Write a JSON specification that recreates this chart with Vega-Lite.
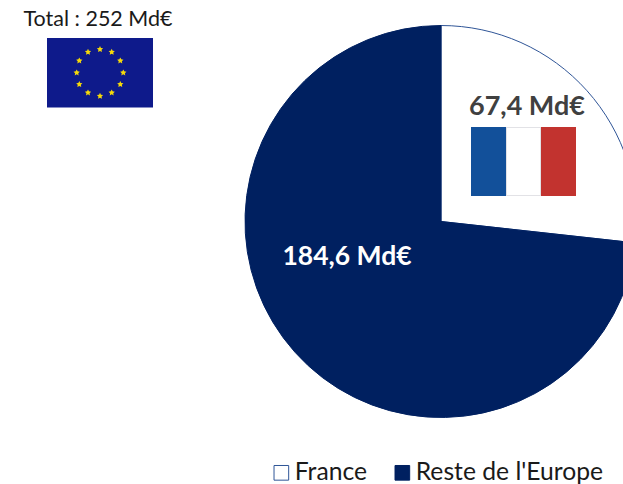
{"$schema":"https://vega.github.io/schema/vega-lite/v6.json","width":623,"height":484,"padding":0,"autosize":{"type":"none"},"background":"white","view":{"stroke":null},"config":{"font":"Lato"},"layer":[
{"data":{"values":[{"zone":"France","valeur":67.4},{"zone":"Reste de l'Europe","valeur":184.6}]},"mark":{"type":"arc","outerRadius":196,"strokeWidth":1,"clip":true},"encoding":{"x":{"datum":441,"type":"quantitative","scale":{"domain":[0,623],"range":[0,623],"nice":false,"zero":false},"axis":null},"y":{"datum":221.5,"type":"quantitative","scale":{"domain":[0,484],"range":[0,484],"nice":false,"zero":false},"axis":null},"theta":{"field":"valeur","type":"quantitative","stack":true},"fill":{"field":"zone","type":"nominal","scale":{"domain":["France","Reste de l'Europe"],"range":["#ffffff","#002060"]},"legend":{"title":null,"orient":"none","legendX":269,"legendY":460,"direction":"horizontal","symbolType":"square","symbolSize":215,"labelFontSize":24.7,"labelColor":"#1a1a1a","labelFont":"Lato","columnPadding":22,"symbolStrokeWidth":1,"labelOffset":1,"labelLimit":300}},"stroke":{"field":"zone","type":"nominal","title":null,"scale":{"domain":["France","Reste de l'Europe"],"range":["#2f5597","#002060"]}}}},
{"data":{"values":[{"bande":"bleu","g":471,"d":506},{"bande":"blanc","g":506,"d":541},{"bande":"rouge","g":541,"d":576}]},"mark":{"type":"rect"},"encoding":{"x":{"field":"g","type":"quantitative"},"x2":{"field":"d"},"y":{"datum":127},"y2":{"datum":196},"color":{"field":"bande","type":"nominal","scale":{"domain":["bleu","blanc","rouge"],"range":["#12509a","#e2e2e6","#c2332f"]},"legend":null}}},
{"data":{"values":[{"bande":"blanc"}]},"mark":{"type":"rect","fill":"#ffffff"},"encoding":{"x":{"datum":507},"x2":{"datum":540},"y":{"datum":128},"y2":{"datum":195}}},
{"data":{"values":[{"a":1}]},"mark":{"type":"rect","fill":"#0e1a8b"},"encoding":{"x":{"datum":47},"x2":{"datum":153},"y":{"datum":38},"y2":{"datum":107.5}}},
{"data":{"values":[{"h":100,"v":49.3},{"h":111.7,"v":52},{"h":120.3,"v":60.7},{"h":123.3,"v":72.7},{"h":120.3,"v":84.3},{"h":111.7,"v":92.7},{"h":100,"v":96},{"h":88,"v":92.7},{"h":79.3,"v":84.3},{"h":76.7,"v":72.7},{"h":79.3,"v":60.7},{"h":88,"v":52}]},"mark":{"type":"point","shape":"M0,-1L0.29,-0.4L0.95,-0.31L0.47,0.15L0.59,0.81L0,0.5L-0.59,0.81L-0.47,0.15L-0.95,-0.31L-0.29,-0.4Z","filled":true,"fill":"#f5d90a","size":44,"opacity":1},"encoding":{"x":{"field":"h","type":"quantitative"},"y":{"field":"v","type":"quantitative"}}},
{"data":{"values":[{"t":"Total : 252 Md€"}]},"mark":{"type":"text","fontSize":21.5,"color":"#1a1a1a","align":"center","baseline":"middle"},"encoding":{"text":{"field":"t"},"x":{"datum":98},"y":{"datum":20}}},
{"data":{"values":[{"t":"67,4 Md€"}]},"mark":{"type":"text","fontSize":27,"fontWeight":"bold","color":"#404040","align":"center","baseline":"middle"},"encoding":{"text":{"field":"t"},"x":{"datum":527},"y":{"datum":107}}},
{"data":{"values":[{"t":"184,6 Md€"}]},"mark":{"type":"text","fontSize":26.5,"fontWeight":"bold","color":"#ffffff","align":"center","baseline":"middle"},"encoding":{"text":{"field":"t"},"x":{"datum":347},"y":{"datum":257}}}
]}
